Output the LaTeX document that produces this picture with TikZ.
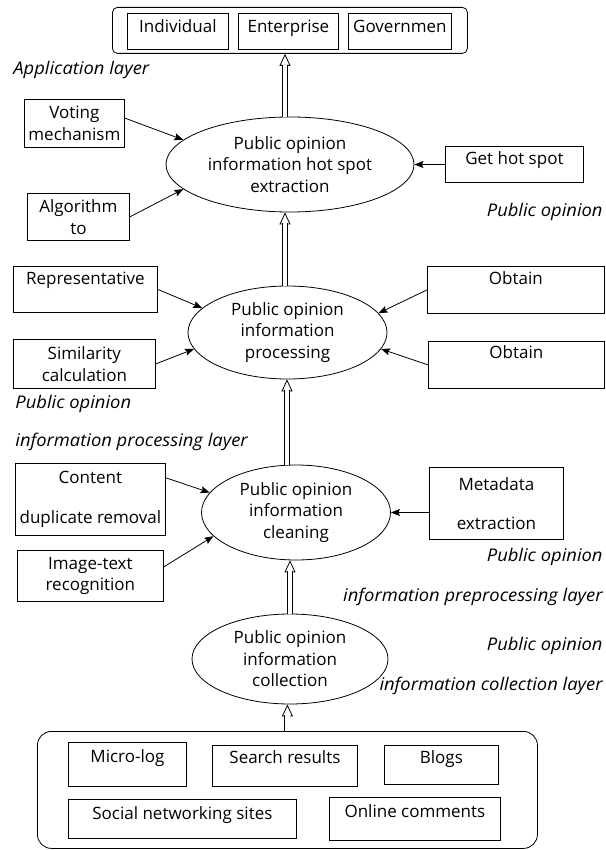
\documentclass[tikz,border=0pt]{standalone}
\usepackage{fontspec}
\setmainfont{Open Sans}
\newfontfamily\annfont[FakeStretch=1.05]{Open Sans}
\usetikzlibrary{shapes, arrows.meta, positioning, shapes.geometric}

\begin{document}
\begin{tikzpicture}[
  x=1pt, y=-1pt,
  line width=0.8pt,
  itembox/.style = {draw, rectangle, anchor=north west, inner sep=0pt,
                    align=center, font=\fontsize{17}{21.5}\selectfont},
  framebox/.style = {draw, rectangle, anchor=north west, inner sep=0pt},
  procnode/.style = {draw, ellipse, inner sep=0pt, align=center,
                     font=\fontsize{17}{21.5}\selectfont},
  ann/.style = {inner sep=0pt, font=\annfont\fontsize{17.5}{20}\selectfont\itshape},
  arr/.style = {-{Stealth[length=9pt, width=7pt, inset=1.5pt]}},
  hollowtip/.style = {-{Triangle[open, length=12pt, width=11pt]}},
  shaft/.style = {double, double distance=4.4pt, shorten >=11pt}
]
\useasboundingbox (0,0) rectangle (605,850);

% application layer
\node[framebox, rounded corners=5pt, minimum width=355pt, minimum height=46pt] (apps) at (112,7) {};
\node[itembox, minimum width=101pt, minimum height=36pt, text height=19.6pt, text depth=16.4pt] (indiv) at (127,13) {Individual};
\node[itembox, minimum width=100pt, minimum height=36pt, text height=19.6pt, text depth=16.4pt] (enter) at (238,13) {Enterprise};
\node[itembox, minimum width=103pt, minimum height=36pt, text height=19.6pt, text depth=16.4pt] (govern) at (348,13) {Governmen};
\node[ann, anchor=west] (lapp) at (13,70) {Application layer};

% hot spot extraction
\node[procnode, minimum width=248pt, minimum height=95pt] (e1) at (290,164.5) {Public opinion\\information hot spot\\extraction};
\node[itembox, minimum width=100pt, minimum height=48pt] (vote) at (24,99) {Voting\\mechanism};
\node[itembox, minimum width=102pt, minimum height=47pt] (algo) at (27,193) {Algorithm\\to};
\node[itembox, minimum width=138pt, minimum height=36pt, text height=18.6pt, text depth=17.4pt] (gethot) at (445,146) {Get hot spot};
\node[ann, anchor=east] (lhot) at (603,212) {Public opinion};

% processing
\node[procnode, minimum width=199pt, minimum height=93pt] (e2) at (287.5,332.5) {Public opinion\\information\\processing};
\node[itembox, minimum width=144pt, minimum height=46pt, text height=17.6pt, text depth=28.4pt] (repr) at (13,266) {Representative};
\node[itembox, minimum width=142pt, minimum height=49pt] (simil) at (13,339) {Similarity\\calculation};
\node[itembox, minimum width=177pt, minimum height=47pt, text height=17.6pt, text depth=29.4pt] (obt1) at (427,266) {Obtain};
\node[itembox, minimum width=176pt, minimum height=47pt, text height=16.6pt, text depth=30.4pt] (obt2) at (428,341) {Obtain};
\node[ann, anchor=west] (lproc1) at (15,404) {Public opinion};
\node[ann, anchor=west] (lproc2) at (15,442) {information processing layer};

% cleaning
\node[procnode, minimum width=189pt, minimum height=95pt] (e3) at (296,512.5) {Public opinion\\information\\cleaning};
\node[itembox, minimum width=150pt, minimum height=72pt] (content) at (15,463) {Content\\[18pt]duplicate removal};
\node[itembox, minimum width=146pt, minimum height=51pt] (imgtxt) at (17,550) {Image-text\\recognition};
\node[itembox, minimum width=134pt, minimum height=72pt] (meta) at (429,467) {Metadata\\[17.5pt]extraction};
\node[ann, anchor=east] (lpre1) at (603,557) {Public opinion};
\node[ann, anchor=east] (lpre2) at (603,597) {information preprocessing layer};

% collection
\node[procnode, minimum width=196pt, minimum height=90pt] (e4) at (290,659) {Public opinion\\information\\collection};
\node[ann, anchor=east] (lcol1) at (603,646) {Public opinion};
\node[ann, anchor=east] (lcol2) at (603,686) {information collection layer};

% data sources
\node[framebox, rounded corners=14pt, minimum width=500pt, minimum height=117pt] (src) at (37,731) {};
\node[itembox, minimum width=118pt, minimum height=44pt, text height=19.6pt, text depth=24.4pt] (micro) at (68,742) {Micro-log};
\node[itembox, minimum width=145pt, minimum height=41pt, text height=17.6pt, text depth=23.4pt] (search) at (212,745) {Search results};
\node[itembox, minimum width=114pt, minimum height=39pt, text height=17.6pt, text depth=21.4pt] (blogs) at (384,745) {Blogs};
\node[itembox, minimum width=228pt, minimum height=39pt, text height=19.6pt, text depth=19.4pt] (social) at (68,799) {Social networking sites};
\node[itembox, minimum width=171pt, minimum height=43pt, text height=19.6pt, text depth=23.4pt] (online) at (329,797) {Online comments};

% layer to layer (tip first, then the hollow shaft over it)
\draw[hollowtip] (src.north) -- (src.north |- e4.south);
\draw[shaft]     (src.north) -- (src.north |- e4.south);
\draw[hollowtip] (e4.north) -- (e4.north |- e3.south);
\draw[shaft]     (e4.north) -- (e4.north |- e3.south);
\draw[hollowtip] ([xshift=-0.5pt]e3.north -| e2.south) -- ([xshift=-0.5pt]e2.south);
\draw[shaft]     ([xshift=-0.5pt]e3.north -| e2.south) -- ([xshift=-0.5pt]e2.south);
\draw[hollowtip] ([xshift=-2.5pt]e2.north) -- ([xshift=-2.5pt]e2.north |- e1.south);
\draw[shaft]     ([xshift=-2.5pt]e2.north) -- ([xshift=-2.5pt]e2.north |- e1.south);
\draw[hollowtip] ([xshift=-5pt]e1.north) -- ([xshift=-5pt]e1.north |- apps.south);
\draw[shaft]     ([xshift=-5pt]e1.north) -- ([xshift=-5pt]e1.north |- apps.south);

% inputs
\draw[arr] (vote.6) -- (e1.167);
\draw[arr] (algo.east) -- (e1.193);
\draw[arr] (gethot.west) -- (e1.east);
\draw[arr] (repr.east) -- (e2.164);
\draw[arr] (simil.east) -- (e2.190);
\draw[arr] (obt1.west) -- (e2.12);
\draw[arr] (obt2.west) -- (e2.350);
\draw[arr] (content.16) -- (e3.167);
\draw[arr] (imgtxt.7) -- (e3.196);
\draw[arr] (meta.west |- e3.east) -- (e3.east);
\end{tikzpicture}
\end{document}
